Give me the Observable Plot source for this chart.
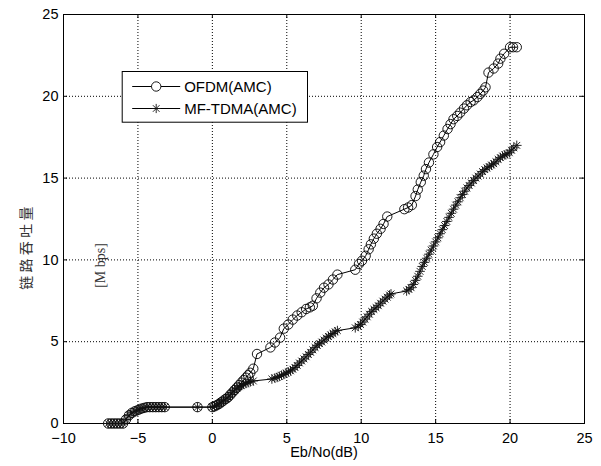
<!DOCTYPE html>
<html><head><meta charset="utf-8">
<script src="https://cdn.jsdelivr.net/npm/d3@7"></script>
<script src="https://cdn.jsdelivr.net/npm/@observablehq/plot@0.6"></script>
<style>html,body{margin:0;padding:0;background:#fff} svg{display:block}</style>
</head><body><div id="chart"></div>
<script>
// ---- data ----
const ofdmX = [-7.0,-6.8,-6.6,-6.4,-6.2,-6.0,-5.8,-5.6,-5.4,-5.2,-5.0,-4.8,-4.6,-4.4,-4.2,-4.0,-3.8,-3.6,-3.4,-3.2,-1.0,
  0.0,0.15,0.3,0.45,0.6,0.75,0.9,1.05,1.2,1.35,1.5,1.65,1.8,1.95,2.1,2.25,2.4,2.55,2.75,3.0,
  3.9,4.2,4.55,4.8,5.1,5.4,5.7,6.0,6.3,6.55,6.75,7.0,7.25,7.5,7.8,8.1,8.4,
  9.6,9.85,10.05,10.3,10.5,10.65,10.85,11.05,11.3,11.5,11.75,
  12.9,13.15,13.4,13.65,13.8,14.0,14.2,14.35,14.55,14.85,15.1,15.3,15.55,15.8,16.0,16.2,16.45,16.65,16.9,17.1,17.35,17.55,17.8,18.0,18.2,18.35,
  18.55,18.9,19.2,19.35,19.6,20.0,20.2,20.45];
const ofdmY = [0,0,0,0,0,0,0.25,0.5,0.65,0.75,0.82,0.9,0.95,1.0,1.0,1.0,1.0,1.0,1.0,1.0,1.0,
  1.0,1.05,1.12,1.2,1.3,1.4,1.5,1.6,1.75,1.9,2.05,2.2,2.35,2.5,2.65,2.8,2.95,3.1,3.35,4.25,
  4.65,4.95,5.25,5.8,6.05,6.35,6.6,6.8,7.0,7.1,7.2,7.65,8.0,8.3,8.5,8.8,9.1,
  9.4,9.75,9.95,10.25,10.65,10.95,11.3,11.6,11.9,12.2,12.65,
  13.1,13.2,13.35,13.9,14.3,14.75,15.15,15.55,15.95,16.45,16.9,17.2,17.6,18.0,18.3,18.6,18.8,19.0,19.25,19.45,19.65,19.75,19.95,20.15,20.35,20.55,
  21.45,21.7,22.0,22.3,22.6,23.0,23.0,23.0];

const tdmaX = [-7.0,-6.8,-6.6,-6.4,-6.2,-6.0,-5.8,-5.6,-5.4,-5.2,-5.0,-4.8,-4.6,-4.4,-4.2,-4.0,-3.8,-3.6,-3.4,-3.2,-1.0,
  0.0,0.15,0.3,0.45,0.6,0.75,0.9,1.05,1.2,1.35,1.5,
  1.65,1.8,1.95,2.1,2.25,2.4,2.55,2.75,
  4.0,4.2,4.35,4.5,4.65,4.8,4.95,5.1,5.25,5.4,5.55,5.7,5.85,6.0,6.15,6.3,6.45,6.6,6.75,6.9,7.05,7.2,7.35,7.5,7.65,7.8,7.95,8.1,8.25,8.4,
  9.6,9.8,9.95,10.1,10.25,10.4,10.55,10.7,10.85,11.0,11.15,11.3,11.45,11.6,11.75,11.9,12.0,
  13.05,13.2,13.35,13.5,13.65,13.8,13.95,14.1,14.25,14.4,14.55,14.7,14.85,15.0,15.15,15.3,15.45,15.6,15.75,15.9,
  16.05,16.2,16.35,16.5,16.65,16.8,16.95,17.1,17.25,17.4,17.55,17.7,17.85,18.0,18.15,18.3,18.45,18.6,18.75,18.9,
  19.05,19.2,19.35,19.5,19.65,19.8,19.95,20.1,20.25,20.45];
const tdmaY = [0,0,0,0,0,0,0.25,0.5,0.65,0.75,0.82,0.9,0.95,1.0,1.0,1.0,1.0,1.0,1.0,1.0,1.0,
  1.0,1.05,1.12,1.2,1.3,1.4,1.5,1.6,1.75,1.9,2.05,
  2.15,2.25,2.32,2.4,2.45,2.5,2.55,2.6,
  2.72,2.78,2.82,2.88,2.95,3.0,3.08,3.15,3.22,3.32,3.42,3.55,3.7,3.82,3.95,4.08,4.22,4.35,4.5,4.65,4.78,4.88,4.98,5.1,5.22,5.32,5.42,5.5,5.6,5.68,
  5.85,5.95,6.05,6.2,6.38,6.52,6.68,6.85,6.98,7.08,7.2,7.35,7.48,7.6,7.72,7.85,7.92,
  8.1,8.2,8.3,8.5,8.75,9.0,9.3,9.6,9.85,10.1,10.35,10.6,10.85,11.1,11.35,11.6,11.85,12.1,12.35,12.6,
  12.85,13.1,13.35,13.55,13.8,14.0,14.2,14.4,14.55,14.7,14.85,15.0,15.12,15.25,15.4,15.52,15.62,15.7,15.8,15.88,
  16.0,16.15,16.25,16.35,16.42,16.48,16.55,16.7,16.85,17.0];

const xTicks = [-10,-5,0,5,10,15,20,25];
const yTicks = [0,5,10,15,20,25];
const seriesNames = ["OFDM(AMC)", "MF-TDMA(AMC)"];
const xLabel = "Eb/No(dB)";
const yLabel = "链路吞吐量";
const yUnit = "[M bps]";

// ---- tables ----
const ofdm = ofdmX.map((x, i) => ({x, y: ofdmY[i]}));
const tdma = tdmaX.map((x, i) => ({x, y: tdmaY[i]}));

const W = 601, H = 466, mL = 63, mR = 17, mT = 14, mB = 43;
const fw = W - mL - mR, fh = H - mT - mB;
const sans = "'Liberation Sans', Arial, Helvetica, sans-serif";

const plot = Plot.plot({
  width: W, height: H,
  marginLeft: mL, marginRight: mR, marginTop: mT, marginBottom: mB,
  style: {fontFamily: sans, fontSize: "14.5px", color: "black", background: "white", overflow: "visible"},
  x: {domain: [-10, 25], label: null},
  y: {domain: [0, 25], label: null},
  marks: [
    Plot.ruleX(xTicks, {x: d => d, stroke: "black", strokeWidth: 1, strokeDasharray: "1,2"}),
    Plot.ruleY(yTicks, {y: d => d, stroke: "black", strokeWidth: 1, strokeDasharray: "1,2"}),
    Plot.ruleX(xTicks, {x: d => d, insetTop: fh - 4, stroke: "black"}),
    Plot.ruleX(xTicks, {x: d => d, insetBottom: fh - 4, stroke: "black"}),
    Plot.ruleY(yTicks, {y: d => d, insetRight: fw - 4, stroke: "black"}),
    Plot.ruleY(yTicks, {y: d => d, insetLeft: fw - 4, stroke: "black"}),
    Plot.frame({stroke: "black", strokeWidth: 1}),
    Plot.axisX(xTicks, {tickSize: 0, tickPadding: 9, fontSize: 14.5, fill: "black"}),
    Plot.axisY(yTicks, {tickSize: 0, tickPadding: 5, fontSize: 14.5, fill: "black"}),
    Plot.line(ofdm, {x: "x", y: "y", stroke: "black", strokeWidth: 1}),
    Plot.dot(ofdm, {x: "x", y: "y", r: 4.7, stroke: "black", strokeWidth: 0.9, fill: "none"}),
    Plot.line(tdma, {x: "x", y: "y", stroke: "black", strokeWidth: 1}),
    Plot.dot(tdma, {x: "x", y: "y", symbol: "plus", r: 3.2, stroke: "#111", strokeWidth: 0.9}),
    Plot.dot(tdma, {x: "x", y: "y", symbol: "times", r: 3.2, stroke: "#111", strokeWidth: 0.9}),
    Plot.text([xLabel], {text: d => d, frameAnchor: "bottom", dy: 33, fontSize: 14.5, fill: "black"})
  ]
});

const svg = d3.select(plot);

// ---- rotated y-axis title (CJK) and unit, as in the reference ----
svg.append("text")
  .attr("transform", "translate(24.5,246.5) rotate(-90)")
  .attr("text-anchor", "middle").attr("dominant-baseline", "central")
  .attr("font-family", "'Noto Sans CJK SC', sans-serif").attr("font-size", 14)
  .attr("letter-spacing", "3.3px").attr("fill", "#333")
  .text(yLabel);
svg.append("text")
  .attr("transform", "translate(100.5,265.5) rotate(-90)")
  .attr("text-anchor", "middle").attr("dominant-baseline", "central")
  .attr("font-family", "'Liberation Serif', 'Times New Roman', serif").attr("font-size", 14)
  .attr("fill", "#333")
  .text(yUnit);

// ---- legend box ----
const lg = svg.append("g").attr("font-family", sans).attr("font-size", 15).attr("text-anchor", "start");
const bx = mL + 58.7, by = mT + 57, bw = 185.3, bh = 50.7;
lg.append("rect").attr("x", bx + 0.5).attr("y", by + 0.5).attr("width", bw).attr("height", bh)
  .attr("fill", "white").attr("stroke", "black").attr("stroke-width", 1);
const rows = [by + 15.5, by + 37.5];
seriesNames.forEach((name, i) => {
  const ry = rows[i];
  lg.append("line").attr("x1", bx + 10.5).attr("x2", bx + 58.5).attr("y1", ry).attr("y2", ry)
    .attr("stroke", "black").attr("stroke-width", 1);
  const mx = bx + 34.5;
  if (i === 0) {
    lg.append("circle").attr("cx", mx).attr("cy", ry).attr("r", 4.7)
      .attr("fill", "white").attr("stroke", "black").attr("stroke-width", 0.9);
  } else {
    const a = 4.6, b = 3.3;
    lg.append("path").attr("d", `M${mx - a},${ry}H${mx + a}M${mx},${ry - a}V${ry + a}M${mx - b},${ry - b}L${mx + b},${ry + b}M${mx - b},${ry + b}L${mx + b},${ry - b}`)
      .attr("stroke", "#111").attr("stroke-width", 0.9).attr("fill", "none");
  }
  lg.append("text").attr("x", bx + 62.5).attr("y", ry).attr("dy", "0.35em").attr("fill", "black").text(name);
});

document.getElementById("chart").appendChild(plot);
</script>
</body></html>
